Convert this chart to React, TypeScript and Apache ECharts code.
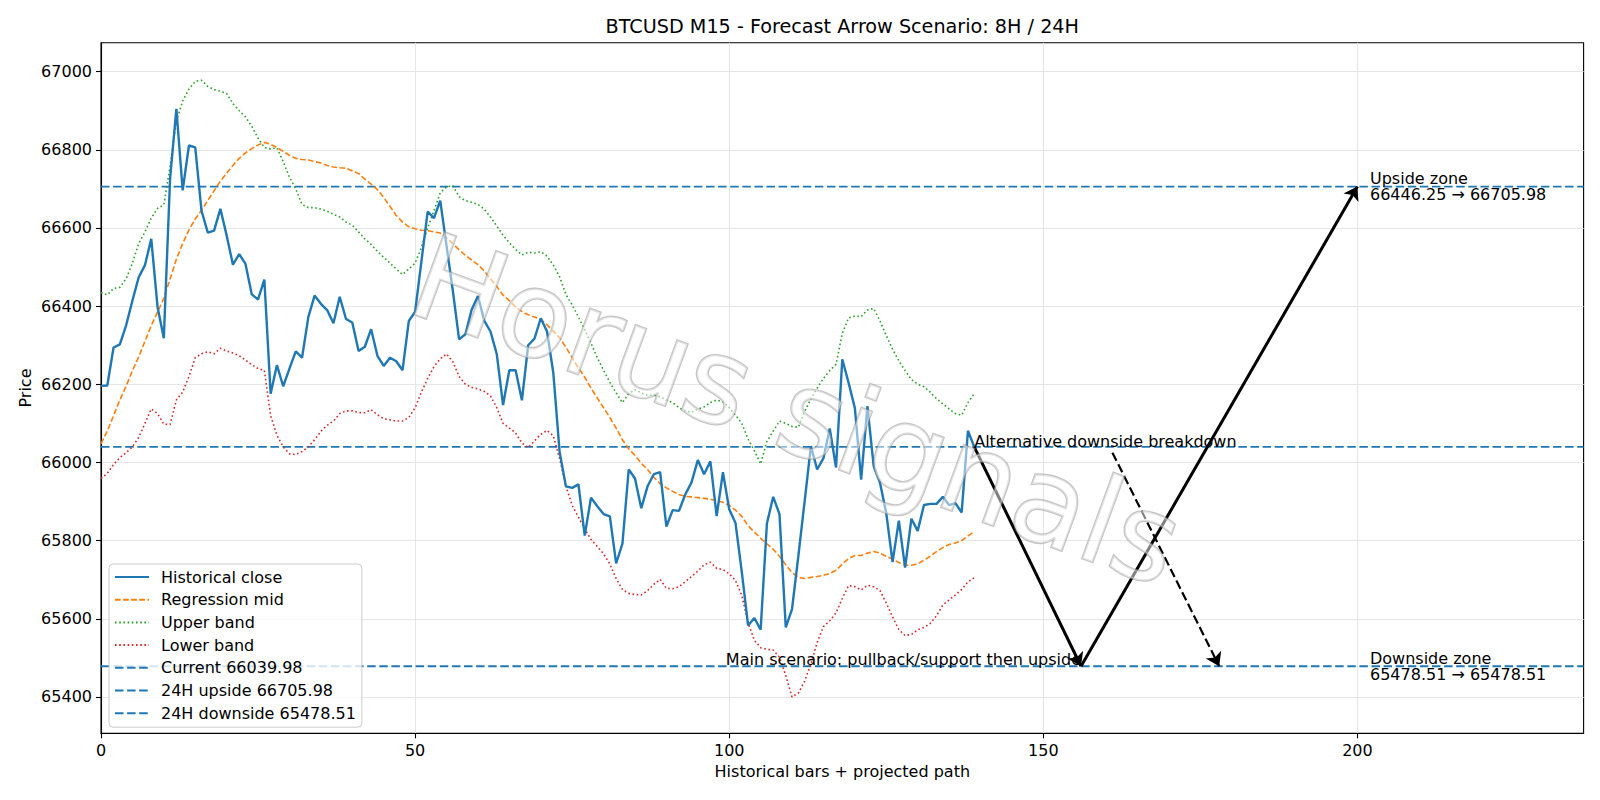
import React, { useEffect, useRef } from "react";
import * as echarts from "echarts";

// Axis ranges and tick positions
const X_MIN = 0;
const X_MAX = 236;
const Y_MIN = 65307;
const Y_MAX = 67074;
const X_TICKS = [0, 50, 100, 150, 200];
const Y_TICKS = [65400, 65600, 65800, 66000, 66200, 66400, 66600, 66800, 67000];

// Historical M15 closes (bar index = position in the array)
const closeValues = [
  66196, 66197, 66294, 66302, 66351, 66414, 66474, 66505, 66572, 66398,
  66318, 66727, 66905, 66696, 66811, 66806, 66644, 66588, 66593, 66649,
  66581, 66506, 66533, 66508, 66430, 66417, 66468, 66176, 66249, 66195,
  66240, 66284, 66268, 66372, 66427, 66406, 66390, 66356, 66424, 66367,
  66358, 66285, 66296, 66341, 66273, 66247, 66268, 66259, 66236, 66362,
  66386, 66514, 66642, 66625, 66670, 66555, 66440, 66315, 66328, 66391,
  66426, 66363, 66335, 66277, 66147, 66236, 66236, 66159, 66300, 66317,
  66369, 66335, 66229, 66027, 65939, 65935, 65944, 65813, 65910, 65888,
  65868, 65862, 65742, 65792, 65982, 65959, 65883, 65939, 65970, 65975,
  65836, 65878, 65876, 65918, 65949, 66006, 65970, 66003, 65863, 65975,
  65880, 65845, 65720, 65583, 65602, 65572, 65844, 65912, 65868, 65578,
  65625, 65760, 65900, 66042, 65982, 66011, 66087, 65987, 66264, 66204,
  66139, 65956, 66144, 65990, 65948, 65870, 65745, 65851, 65731, 65856,
  65825, 65891, 65894, 65894, 65912, 65891, 65896, 65872, 66081, 66039.98,
];

// Regression mid-line
const midValues = [
  66048, 66080, 66120, 66160, 66195, 66235, 66270, 66310, 66350, 66385,
  66420, 66470, 66520, 66560, 66595, 66623, 66645, 66670, 66695, 66720,
  66740, 66760, 66778, 66792, 66803, 66812, 66819, 66814, 66806, 66796,
  66786, 66778, 66775, 66774, 66770, 66766, 66760, 66756, 66754, 66753,
  66746, 66739, 66725, 66712, 66698, 66678, 66655, 66632, 66615, 66603,
  66598, 66594, 66593, 66590, 66587, 66575, 66560, 66544, 66530, 66518,
  66506, 66490, 66470, 66450, 66428, 66414, 66398, 66386, 66378, 66372,
  66366, 66352, 66336, 66319, 66295, 66268, 66242, 66218, 66190, 66165,
  66140, 66115, 66088, 66058, 66035, 66018, 65998, 65982, 65962, 65946,
  65935, 65926, 65918, 65913, 65912, 65910, 65908, 65906, 65902, 65898,
  65890, 65878, 65862, 65838, 65822, 65806, 65792, 65778, 65760, 65738,
  65718, 65706, 65703, 65706, 65708, 65711, 65716, 65724, 65740, 65754,
  65762, 65762, 65768, 65772, 65768, 65760, 65752, 65744, 65737, 65737,
  65740, 65750, 65760, 65772, 65782, 65790, 65794, 65800, 65812, 65823,
];

// Upper channel band
const upperValues = [
  66435, 66429, 66445, 66448, 66470, 66510, 66560, 66590, 66625, 66650,
  66659, 66758, 66873, 66925, 66955, 66975, 66978, 66962, 66954, 66950,
  66944, 66918, 66900, 66884, 66860, 66830, 66806, 66802, 66805, 66770,
  66730, 66700, 66660, 66652, 66652, 66648, 66643, 66635, 66628, 66615,
  66607, 66590, 66572, 66558, 66540, 66525, 66510, 66495, 66481, 66495,
  66510, 66550, 66600, 66644, 66690, 66705, 66708, 66680, 66670, 66666,
  66660, 66648, 66628, 66605, 66581, 66562, 66545, 66531, 66538, 66536,
  66539, 66528, 66505, 66475, 66430, 66403, 66372, 66340, 66305, 66268,
  66236, 66205, 66178, 66153, 66176, 66186, 66178, 66172, 66172, 66168,
  66160, 66153, 66140, 66132, 66128, 66137, 66142, 66153, 66160, 66155,
  66140, 66121, 66100, 66060, 66030, 65996, 66054, 66080, 66106, 66100,
  66092, 66090, 66130, 66163, 66190, 66215, 66235, 66251, 66330, 66370,
  66375, 66373, 66390, 66394, 66362, 66325, 66290, 66260, 66235, 66212,
  66200, 66194, 66180, 66163, 66150, 66137, 66125, 66121, 66153, 66176,
];

// Lower channel band
const lowerValues = [
  65959, 65972, 65995, 66012, 66025, 66040, 66064, 66100, 66137, 66125,
  66098, 66097, 66160, 66180, 66220, 66268, 66278, 66283, 66278, 66292,
  66285, 66280, 66273, 66262, 66250, 66240, 66236, 66120, 66070, 66040,
  66022, 66020, 66028, 66040, 66058, 66080, 66095, 66106, 66125, 66132,
  66132, 66128, 66127, 66135, 66122, 66112, 66109, 66106, 66106, 66115,
  66140, 66180, 66215, 66245, 66265, 66278, 66258, 66220, 66200, 66192,
  66188, 66182, 66170, 66140, 66100, 66088, 66075, 66050, 66038, 66055,
  66072, 66082, 66068, 66010, 65940, 65890, 65860, 65830, 65803, 65785,
  65766, 65740, 65703, 65675, 65665, 65662, 65661, 65672, 65688, 65701,
  65678, 65677, 65682, 65695, 65708, 65722, 65738, 65745, 65729, 65726,
  65715, 65698, 65660, 65590, 65545, 65526, 65522, 65520, 65502, 65455,
  65400, 65410, 65440, 65484, 65540, 65580, 65595, 65615, 65652, 65685,
  65682, 65674, 65686, 65682, 65672, 65640, 65605, 65572, 65557, 65560,
  65572, 65578, 65588, 65608, 65635, 65648, 65661, 65675, 65694, 65705,
];

// Key levels
const CURRENT = 66039.98;
const UPSIDE_FROM = 66446.25;
const UPSIDE = 66705.98;
const DOWNSIDE = 65478.51;

// Projected paths (bar index, price)
const mainPathX = [139, 156, 200];
const mainPathY = [CURRENT, DOWNSIDE, UPSIDE];
const altPathX = [161, 178];
const altPathY = [66025, DOWNSIDE];
const zoneLabelX = 202;

const FONT = "DejaVu Sans";
const FS = 16;

const CURRENT_NAME = `Current ${CURRENT.toFixed(2)}`;
const UPSIDE_NAME = `24H upside ${UPSIDE.toFixed(2)}`;
const DOWNSIDE_NAME = `24H downside ${DOWNSIDE.toFixed(2)}`;

const indexed = (arr: number[]) => arr.map((v, i) => [i, v]);

function hLine(name: string, value: number) {
  return {
    name,
    type: "line",
    data: [[X_MIN, value], [X_MAX, value]],
    symbol: "none",
    silent: true,
    lineStyle: { color: "#1f77b4", width: 1.8, type: [8.5, 3.6] },
    itemStyle: { color: "#1f77b4" },
    z: 3,
  };
}

function seriesLine(name: string, data: number[], color: string, type: any, width: number, z: number) {
  return {
    name,
    type: "line",
    data: indexed(data),
    symbol: "none",
    silent: true,
    lineStyle: { color, width, type },
    itemStyle: { color },
    z,
  };
}

function buildOption(): any {
  const mainSegments = [];
  for (let k = 0; k < mainPathX.length - 1; k++) {
    mainSegments.push([
      { coord: [mainPathX[k], mainPathY[k]] },
      { coord: [mainPathX[k + 1], mainPathY[k + 1]] },
    ]);
  }
  const altSegment = [
    { coord: [altPathX[0], altPathY[0]], lineStyle: { type: [9, 4], width: 2.2 } },
    { coord: [altPathX[1], altPathY[1]] },
  ];

  const axisLabel = (ticks: number[]) => ({
    customValues: ticks,
    margin: 9,
    fontFamily: FONT,
    fontSize: FS,
    color: "#000",
    formatter: (v: number) => String(v),
  });
  const axisTick = (ticks: number[]) => ({
    show: true,
    customValues: ticks,
    length: 5,
    lineStyle: { color: "#000", width: 1.1 },
  });

  return {
    animation: false,
    backgroundColor: "#ffffff",
    textStyle: { fontFamily: FONT },
    grid: {
      left: 101,
      right: 16.4,
      top: 42.7,
      bottom: 66.7,
      show: true,
      borderColor: "#000",
      borderWidth: 1.1,
      outerBoundsMode: "none",
    },
    legend: {
      data: [
        "Historical close",
        "Regression mid",
        "Upper band",
        "Lower band",
        CURRENT_NAME,
        UPSIDE_NAME,
        DOWNSIDE_NAME,
      ],
      orient: "vertical",
      left: 109,
      top: 564,
      itemWidth: 34,
      itemHeight: 14,
      itemGap: 6.7,
      padding: [5, 6, 6, 5],
      backgroundColor: "rgba(255,255,255,0.8)",
      borderColor: "#cccccc",
      borderWidth: 1,
      borderRadius: 4,
      selectedMode: false,
      itemStyle: { opacity: 0, color: "transparent", borderWidth: 0 },
      textStyle: { fontFamily: FONT, fontSize: FS, lineHeight: 14, color: "#000", padding: [0, 0, 0, 7] },
    },
    xAxis: {
      type: "value",
      min: X_MIN,
      max: X_MAX,
      axisLine: { show: true, onZero: false, lineStyle: { color: "#000", width: 1.1 } },
      axisTick: axisTick(X_TICKS),
      axisLabel: axisLabel(X_TICKS),
      splitLine: { show: true, lineStyle: { color: "#e6e6e6", width: 1.1 } },
    },
    yAxis: {
      type: "value",
      min: Y_MIN,
      max: Y_MAX,
      axisLine: { show: true, onZero: false, lineStyle: { color: "#000", width: 1.1 } },
      axisTick: axisTick(Y_TICKS),
      axisLabel: axisLabel(Y_TICKS),
      splitLine: { show: true, lineStyle: { color: "#e6e6e6", width: 1.1 } },
    },
    series: [
      seriesLine("Historical close", closeValues, "#1f77b4", "solid", 2.4, 6),
      seriesLine("Regression mid", midValues, "#ff7f0e", [5.6, 2.5], 1.6, 5),
      seriesLine("Upper band", upperValues, "#2ca02c", [1.6, 2.6], 1.6, 5),
      seriesLine("Lower band", lowerValues, "#d62728", [1.6, 2.6], 1.6, 5),
      hLine(CURRENT_NAME, CURRENT),
      hLine(UPSIDE_NAME, UPSIDE),
      hLine(DOWNSIDE_NAME, DOWNSIDE),
      {
        name: "scenario paths",
        type: "line",
        data: [],
        silent: true,
        z: 8,
        markLine: {
          silent: true,
          symbol: ["none", "arrow"],
          symbolSize: 13,
          label: { show: false },
          lineStyle: { color: "#000", width: 3, type: "solid" },
          emphasis: { disabled: true },
          data: [...mainSegments, altSegment],
        },
      },
    ],
  };
}

export default function App() {
  const ref = useRef<HTMLDivElement>(null);

  useEffect(() => {
    const el = ref.current;
    if (!el) return;
    const chart = echarts.init(el, null, { renderer: "svg" });
    chart.setOption(buildOption());

    const px = (x: number, y: number) => chart.convertToPixel({ gridIndex: 0 }, [x, y]) as number[];
    const textStyle = (text: string, align: string, verticalAlign: string, extra: any = {}) => ({
      text,
      fill: "#000",
      fontFamily: FONT,
      fontSize: FS,
      align,
      verticalAlign,
      ...extra,
    });

    const altPt = px(mainPathX[0], CURRENT);
    const mainPt = px(mainPathX[1], DOWNSIDE);
    const upPt = px(zoneLabelX, UPSIDE);
    const downPt = px(zoneLabelX, DOWNSIDE);
    const topLeft = px(X_MIN, Y_MAX);
    const bottomRight = px(X_MAX, Y_MIN);
    const cx = (topLeft[0] + bottomRight[0]) / 2;
    const cy = (topLeft[1] + bottomRight[1]) / 2;

    chart.setOption({
      graphic: {
        elements: [
          {
            type: "text",
            x: cx,
            y: 26.5,
            style: { text: "BTCUSD M15 - Forecast Arrow Scenario: 8H / 24H", fill: "#000", fontFamily: FONT, fontSize: 19.2, align: "center", verticalAlign: "middle" },
          },
          {
            type: "text",
            x: cx,
            y: 771.5,
            style: textStyle("Historical bars + projected path", "center", "middle"),
          },
          {
            type: "text",
            x: 25.5,
            y: cy,
            rotation: Math.PI / 2,
            style: textStyle("Price", "center", "middle"),
          },
          {
            type: "text",
            x: altPt[0],
            y: altPt[1] + 3,
            z: 20,
            style: textStyle("Alternative downside breakdown", "left", "bottom"),
          },
          {
            type: "text",
            x: mainPt[0],
            y: mainPt[1] + 1,
            z: 20,
            style: textStyle("Main scenario: pullback/support then upside", "right", "bottom"),
          },
          {
            type: "text",
            x: upPt[0],
            y: upPt[1],
            z: 20,
            style: textStyle(`Upside zone\n${UPSIDE_FROM.toFixed(2)} \u2192 ${UPSIDE.toFixed(2)}`, "left", "middle", { lineHeight: 16.5 }),
          },
          {
            type: "text",
            x: downPt[0],
            y: downPt[1],
            z: 20,
            style: textStyle(`Downside zone\n${DOWNSIDE.toFixed(2)} \u2192 ${DOWNSIDE.toFixed(2)}`, "left", "middle", { lineHeight: 16.5 }),
          },
          {
            type: "text",
            x: 797,
            y: 410,
            rotation: -0.35,
            z: 100,
            silent: true,
            style: {
              text: "Horus signals",
              fontFamily: FONT,
              fontSize: 120,
              fill: "rgba(255,255,255,0.5)",
              stroke: "rgba(150,150,150,0.55)",
              lineWidth: 2.4,
              align: "center",
              verticalAlign: "middle",
            },
          },
        ],
      },
    });

    return () => chart.dispose();
  }, []);

  return <div ref={ref} style={{ position: "absolute", left: 0, top: 0, width: 1600, height: 800 }} />;
}
